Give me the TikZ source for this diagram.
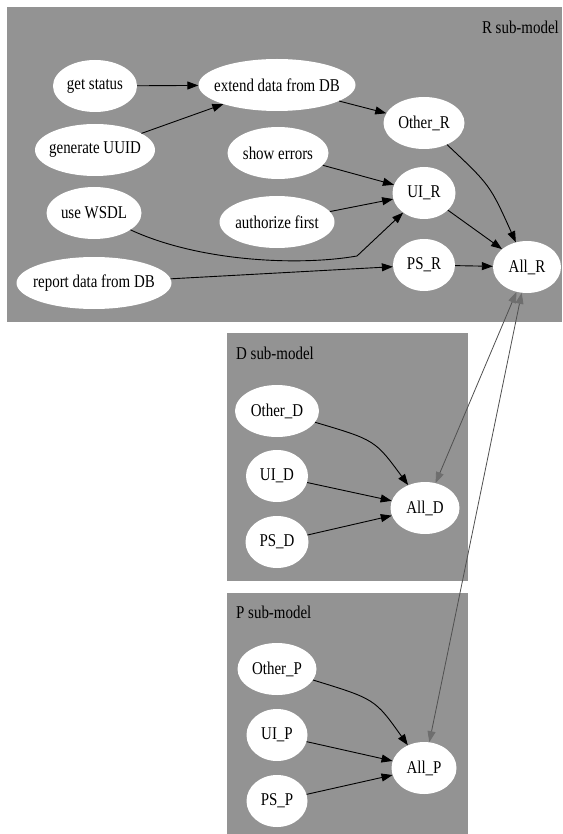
\documentclass[tikz,border=0pt]{standalone}
\usepackage{fontspec}
\setmainfont{Liberation Serif}[FakeStretch=0.83]
\usetikzlibrary{shapes.geometric,arrows.meta}
\definecolor{clgray}{HTML}{939393}
\definecolor{edgegray}{HTML}{505050}
\definecolor{tipgray}{HTML}{6E6E6E}
\newcommand\nlab[1]{\makebox[0pt]{#1}}
\begin{document}
\begin{tikzpicture}[x=1pt,y=1pt,
  nd/.style={ellipse, fill=white, inner sep=0pt, minimum height=52pt, font=\fontsize{18}{20}\selectfont},
  e/.style={draw=black, line width=0.9pt, -{Triangle[length=11pt,width=8pt]}},
  ge/.style={draw=edgegray, line width=0.8pt, {Triangle[length=11pt,width=8pt,color=tipgray]}-{Triangle[length=11pt,width=8pt,color=tipgray]}},
  cllab/.style={font=\fontsize{18}{20}\selectfont, inner sep=0pt}]
\useasboundingbox (0,0) rectangle (562,-834);
\fill[white] (0,0) rectangle (562,-834);
% clusters
\fill[clgray] (7,-7) rectangle (562,-322);
\fill[clgray] (227,-333) rectangle (468,-581);
\fill[clgray] (227,-593) rectangle (468,-834);
\node[cllab, anchor=east] (labR) at (559,-27) {R sub-model};
\node[cllab, anchor=west] (labD) at (236,-353) {D sub-model};
\node[cllab, anchor=west] (labP) at (236,-612) {P sub-model};
% R nodes
\node[nd, minimum width=84pt] (gs) at (95,-86) {\nlab{get status}};
\node[nd, minimum width=157pt] (ext) at (277,-85) {\nlab{extend data from DB}};
\node[nd, minimum width=120pt] (uuid) at (95,-150) {\nlab{generate UUID}};
\node[nd, minimum width=81pt] (oR) at (424,-123) {\nlab{Other\_R}};
\node[nd, minimum width=101pt] (se) at (278,-153) {\nlab{show errors}};
\node[nd, minimum width=63pt] (uiR) at (424,-193) {\nlab{UI\_R}};
\node[nd, minimum width=95pt] (wsdl) at (94,-213) {\nlab{use WSDL}};
\node[nd, minimum width=115pt] (auth) at (277,-222) {\nlab{authorize first}};
\node[nd, minimum width=62pt] (psR) at (424,-265) {\nlab{PS\_R}};
\node[nd, minimum width=155pt] (rep) at (94,-283) {\nlab{report data from DB}};
\node[nd, minimum width=68pt] (aR) at (527,-267) {\nlab{All\_R}};
% D nodes
\node[nd, minimum width=84pt] (oD) at (277,-411) {\nlab{Other\_D}};
\node[nd, minimum width=62pt] (uiD) at (277,-476) {\nlab{UI\_D}};
\node[nd, minimum width=63pt] (psD) at (277,-542) {\nlab{PS\_D}};
\node[nd, minimum width=69pt] (aD) at (425,-508) {\nlab{All\_D}};
% P nodes
\node[nd, minimum width=79pt] (oP) at (277,-669) {\nlab{Other\_P}};
\node[nd, minimum width=61pt] (uiP) at (277,-735) {\nlab{UI\_P}};
\node[nd, minimum width=61pt] (psP) at (277,-801) {\nlab{PS\_P}};
\node[nd, minimum width=65pt] (aP) at (424,-768) {\nlab{All\_P}};
% R edges
\draw[e] (gs) -- (ext);
\draw[e] (uuid) -- (ext);
\draw[e] (ext) -- (oR);
\draw[e] (oR) .. controls (490,-185) .. (aR);
\draw[e] (se) -- (uiR);
\draw[e] (auth) -- (uiR);
\draw[e] (wsdl) .. controls (200,-262) and (300,-266) .. (357,-256) -- (uiR);
\draw[e] (rep) -- (psR);
\draw[e] (uiR) -- (aR);
\draw[e] (psR) -- (aR);
% D edges
\draw[e] (oD) .. controls (375,-440) .. (aD);
\draw[e] (uiD) -- (aD);
\draw[e] (psD) -- (aD);
% P edges
\draw[e] (oP) .. controls (375,-699) .. (aP);
\draw[e] (uiP) -- (aP);
\draw[e] (psP) -- (aP);
% inter-cluster edges
\draw[ge] (aR) -- (aD);
\draw[ge] (aR) -- (aP);
\end{tikzpicture}
\end{document}
